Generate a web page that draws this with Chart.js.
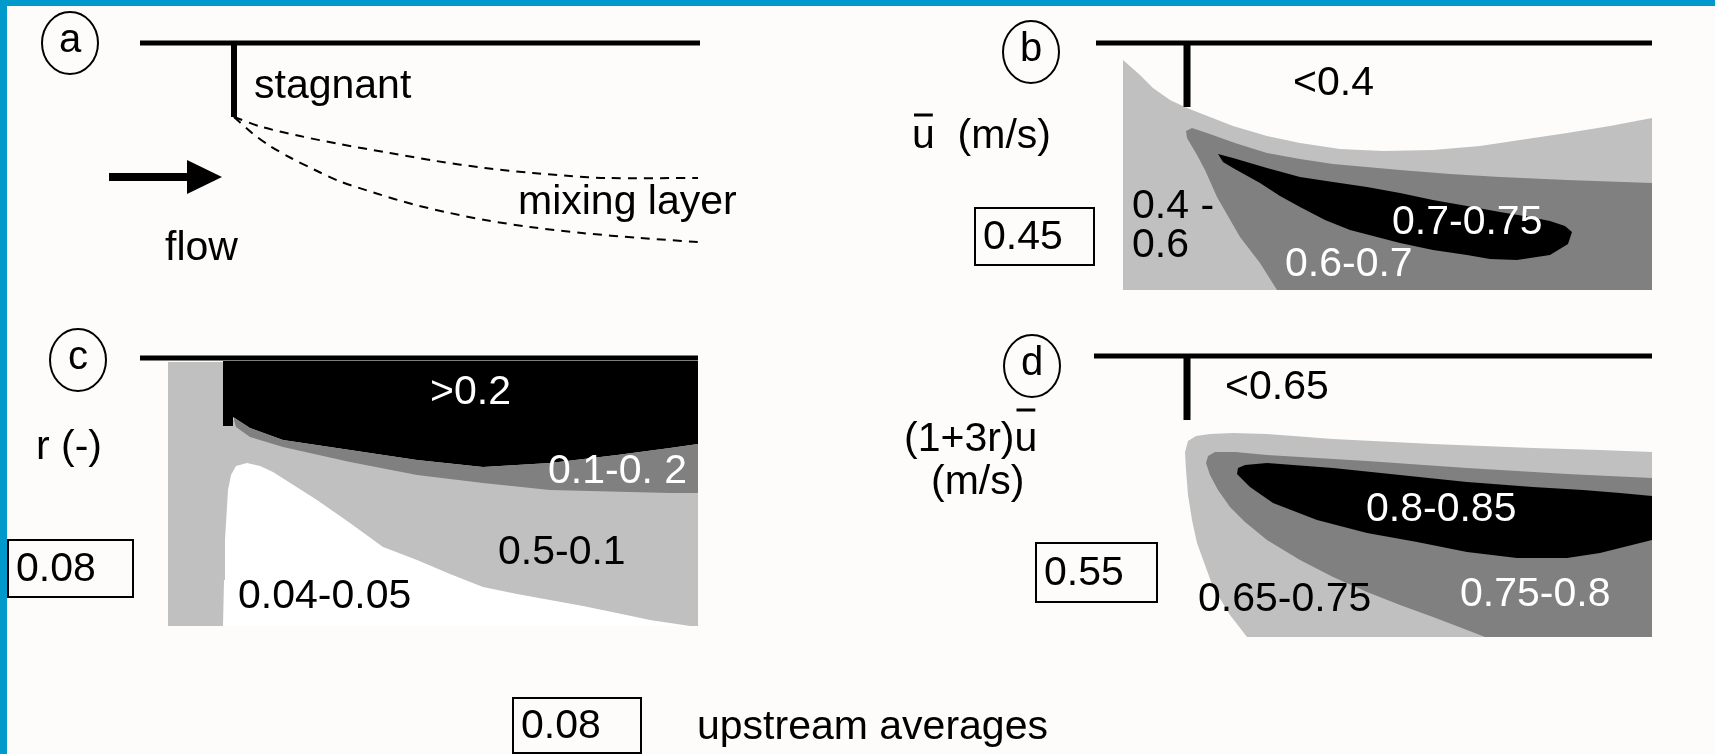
<!DOCTYPE html>
<html>
<head>
<meta charset="utf-8">
<script src="https://cdn.jsdelivr.net/npm/chart.js@4/dist/chart.umd.min.js"></script>
<style>
  html, body { margin: 0; padding: 0; background: #fdfcfa; overflow: hidden; }
  canvas { display: block; }
</style>
</head>
<body>
<canvas id="fig" width="1715" height="754"></canvas>
<script>
// ---- Panel (a): groyne sketch ----
const wallA = [[140, 43], [700, 43]];
const stemA = [[234, 43], [234, 117]];
const mixUpper = [[234, 117], [262, 127], [300, 136], [339, 144], [390, 153], [436, 161], [485, 168], [533, 173], [570, 176], [606, 178], [698, 178]];
const mixLower = [[234, 117], [252, 133], [270, 146], [291, 158], [315, 170], [339, 181], [375, 193], [412, 204], [450, 213], [485, 220], [530, 227], [582, 233], [640, 238], [698, 242]];
const arrowShaft = [[109, 177], [195, 177]];
const arrowHead = [[187, 160], [222, 177], [187, 194]];

// ---- Panel (b): mean velocity zones ----
const wallB = [[1096, 43], [1652, 43]];
const stemB = [[1187, 43], [1187, 107]];
const bZone40to60 = [[1123, 60], [1140, 75], [1153, 88], [1170, 100], [1187, 108], [1210, 117], [1233, 126], [1267, 136], [1300, 143], [1340, 149], [1383, 151], [1433, 150], [1480, 146], [1520, 140], [1567, 133], [1610, 126], [1652, 118], [1652, 290], [1123, 290]];
const bZone60to70 = [[1186, 131], [1192, 128], [1207, 133], [1235, 143], [1267, 153], [1300, 159], [1333, 164], [1400, 170], [1450, 174], [1500, 177], [1567, 180], [1652, 183], [1652, 290], [1277, 290], [1260, 263], [1240, 237], [1217, 197], [1205, 170], [1197, 155], [1187, 138]];
const bZone70to75 = [[1218, 154], [1233, 158], [1267, 168], [1300, 177], [1333, 182], [1367, 187], [1400, 193], [1433, 200], [1467, 206], [1500, 212], [1530, 217], [1550, 221], [1565, 226], [1572, 232], [1568, 244], [1550, 255], [1517, 260], [1490, 259], [1467, 255], [1433, 250], [1400, 243], [1350, 230], [1325, 220], [1300, 207], [1280, 196], [1260, 183], [1233, 168], [1223, 162]];

// ---- Panel (c): exchange ratio r ----
const wallC = [[140, 358], [698, 358]];
const cZone05to10 = [[168, 362], [223, 362], [223, 420], [698, 420], [698, 626], [168, 626]];
const cZoneAbove20 = [[223, 361], [698, 361], [698, 444], [670, 448], [617, 455], [550, 463], [483, 467], [417, 460], [350, 450], [283, 440], [250, 428], [233, 417], [233, 426], [223, 426]];
const cZone10to20 = [[233, 417], [250, 428], [283, 440], [350, 450], [417, 460], [483, 467], [550, 463], [617, 455], [670, 448], [698, 444], [698, 493], [670, 493], [550, 490], [483, 483], [417, 475], [350, 462], [283, 447], [250, 437], [236, 427]];
const cZone04to05 = [[223, 626], [224, 580], [225, 540], [228, 490], [231, 475], [236, 466], [247, 463], [260, 466], [273, 472], [295, 486], [317, 500], [350, 523], [383, 547], [417, 560], [450, 574], [483, 587], [517, 594], [550, 600], [583, 606], [617, 613], [650, 620], [670, 623], [690, 626]];

// ---- Panel (d): (1+3r)u zones ----
const wallD = [[1094, 356], [1652, 356]];
const stemD = [[1187, 356], [1187, 420]];
const dZone65to75 = [[1247, 637], [1230, 615], [1213, 587], [1205, 565], [1197, 543], [1192, 520], [1188, 495], [1186, 470], [1185, 452], [1188, 441], [1196, 436], [1210, 434], [1233, 433], [1267, 434], [1333, 439], [1433, 444], [1533, 448], [1600, 450], [1652, 452], [1652, 637]];
const dZone75to80 = [[1485, 637], [1467, 630], [1433, 617], [1400, 605], [1367, 592], [1333, 577], [1300, 560], [1267, 540], [1245, 522], [1230, 507], [1218, 490], [1210, 475], [1206, 463], [1208, 456], [1215, 452], [1235, 452], [1267, 455], [1367, 461], [1467, 468], [1567, 474], [1652, 478], [1652, 637]];
const dZone80to85 = [[1237, 474], [1238, 468], [1245, 465], [1267, 463], [1333, 468], [1400, 475], [1467, 482], [1533, 487], [1583, 490], [1620, 493], [1652, 496], [1652, 540], [1620, 548], [1600, 553], [1567, 558], [1517, 558], [1467, 552], [1417, 542], [1367, 533], [1317, 520], [1273, 503], [1250, 487]];

// panel markers (circled letters)
const panelCentres = [[70, 43], [1031, 52], [78, 360], [1032, 366]];
const panelLetters = ['a', 'b', 'c', 'd'];

// upstream averages shown in boxes
const upstreamValues = ['0.45', '0.08', '0.55', '0.08'];

const LIGHT = '#c0c0c0', MID = '#808080', DARK = '#000000', PAPER = '#ffffff';
const FONT = '41px "Liberation Sans", Arial, sans-serif';

const pts = a => a.map(([x, y]) => ({ x, y }));

// slightly tall oval used as the point style of the panel markers
function ovalStyle(rx, ry) {
  const c = document.createElement('canvas');
  c.width = rx * 2 + 4; c.height = ry * 2 + 4;
  const g = c.getContext('2d');
  g.lineWidth = 2;
  g.strokeStyle = '#000';
  g.beginPath();
  g.ellipse(rx + 2, ry + 2, rx, ry, 0, 0, Math.PI * 2);
  g.stroke();
  return c;
}

const datasets = [];
function area(data, color) {
  datasets.push({ data: pts(data), fill: 'shape', backgroundColor: color, borderWidth: 0, pointRadius: 0, tension: 0 });
}
function stroke(data, width, dash, tension) {
  datasets.push({ data: pts(data), fill: false, borderColor: '#000', borderWidth: width, borderDash: dash || [], borderCapStyle: 'butt', pointRadius: 0, tension: tension || 0 });
}

// panel b
area(bZone40to60, LIGHT);
area(bZone60to70, MID);
area(bZone70to75, DARK);
// panel c
area(cZone05to10, LIGHT);
area(cZoneAbove20, DARK);
area(cZone10to20, MID);
area(cZone04to05, PAPER);
// panel d
area(dZone65to75, LIGHT);
area(dZone75to80, MID);
area(dZone80to85, DARK);

// walls and groynes
stroke(wallA, 5); stroke(stemA, 6);
stroke(wallB, 5); stroke(stemB, 7);
stroke(wallC, 5);
stroke(wallD, 5); stroke(stemD, 7);
// mixing layer edges
stroke(mixUpper, 2, [9, 7], 0.3);
stroke(mixLower, 2, [9, 7], 0.3);
// flow arrow
stroke(arrowShaft, 8);
area(arrowHead, '#000');

// circled letters
datasets.push({
  type: 'scatter', data: pts(panelCentres), pointRadius: 30, pointStyle: ovalStyle(28, 31),
  borderWidth: 0, backgroundColor: 'rgba(0,0,0,0)'
});

datasets.forEach((d, i) => { d.order = -i; });

// text annotations (layout); 'bar' marks the glyph that carries an overbar
const texts = [
  { t: 'stagnant', x: 254, y: 87 },
  { t: 'mixing layer', x: 518, y: 203 },
  { t: 'flow', x: 165, y: 249 },
  { t: '<0.4', x: 1293, y: 84 },
  { t: 'u  (m/s)', x: 912, y: 137, bar: 0, barY: 115 },
  { t: '0.4 -', x: 1132, y: 207 },
  { t: '0.6', x: 1132, y: 246 },
  { t: '0.6-0.7', x: 1285, y: 265, c: '#fff' },
  { t: '0.7-0.75', x: 1392, y: 223, c: '#fff' },
  { t: '>0.2', x: 430, y: 393, c: '#fff' },
  { t: '0.1-0. 2', x: 548, y: 472, c: '#fff' },
  { t: '0.5-0.1', x: 498, y: 553 },
  { t: '0.04-0.05', x: 238, y: 597 },
  { t: 'r (-)', x: 36, y: 448 },
  { t: '<0.65', x: 1225, y: 388 },
  { t: '(1+3r)u', x: 904, y: 440, bar: 6, barY: 410 },
  { t: '(m/s)', x: 931, y: 483 },
  { t: '0.8-0.85', x: 1366, y: 510, c: '#fff' },
  { t: '0.75-0.8', x: 1460, y: 595, c: '#fff' },
  { t: '0.65-0.75', x: 1198, y: 600 },
  { t: 'upstream averages', x: 697, y: 728 }
];
const boxes = [
  { v: 0, x1: 975, y1: 208, x2: 1094, y2: 265 },
  { v: 1, x1: 8, y1: 540, x2: 133, y2: 597 },
  { v: 2, x1: 1036, y1: 543, x2: 1157, y2: 602 },
  { v: 3, x1: 513, y1: 698, x2: 641, y2: 753 }
];

const paper = {
  id: 'paper',
  beforeDraw(chart) {
    const { ctx, width, height } = chart;
    ctx.save();
    ctx.fillStyle = '#fdfcfa';
    ctx.fillRect(0, 0, width, height);
    ctx.fillStyle = '#0099cc';
    ctx.fillRect(0, 0, width, 6);
    ctx.fillRect(0, 0, 7, height);
    ctx.restore();
  }
};

const annotate = {
  id: 'annotate',
  afterDatasetsDraw(chart) {
    const { ctx } = chart;
    const X = v => chart.scales.x.getPixelForValue(v);
    const Y = v => chart.scales.y.getPixelForValue(v);
    ctx.save();
    ctx.font = FONT;
    ctx.textBaseline = 'middle';
    ctx.textAlign = 'left';
    texts.forEach(o => {
      ctx.fillStyle = o.c || '#000';
      ctx.fillText(o.t, X(o.x), Y(o.y));
      if (o.bar !== undefined) {
        const x0 = X(o.x) + ctx.measureText(o.t.slice(0, o.bar)).width;
        const w = ctx.measureText(o.t.charAt(o.bar)).width;
        ctx.fillRect(x0 + 2, Y(o.barY) - 1.5, w - 4, 3);
      }
    });
    // boxed upstream averages
    ctx.strokeStyle = '#000';
    ctx.lineWidth = 2;
    boxes.forEach(b => {
      ctx.strokeRect(X(b.x1), Y(b.y1), X(b.x2) - X(b.x1), Y(b.y2) - Y(b.y1));
      ctx.fillStyle = '#000';
      ctx.fillText(upstreamValues[b.v], X(b.x1) + 8, (Y(b.y1) + Y(b.y2)) / 2 + 1);
    });
    // circled panel letters
    ctx.textAlign = 'center';
    ctx.font = '40px "Liberation Sans", Arial, sans-serif';
    panelCentres.forEach(([x, y], i) => {
      ctx.fillText(panelLetters[i], X(x), Y(y) - 2);
    });
    ctx.restore();
  }
};

new Chart(document.getElementById('fig'), {
  type: 'line',
  data: { datasets },
  options: {
    responsive: false,
    animation: false,
    devicePixelRatio: 1,
    events: [],
    layout: { padding: 0, autoPadding: false },
    plugins: { legend: { display: false }, tooltip: { enabled: false } },
    scales: {
      x: { type: 'linear', min: 0, max: 1715, display: false },
      y: { type: 'linear', min: 0, max: 754, reverse: true, display: false }
    }
  },
  plugins: [paper, annotate]
});
</script>
</body>
</html>
